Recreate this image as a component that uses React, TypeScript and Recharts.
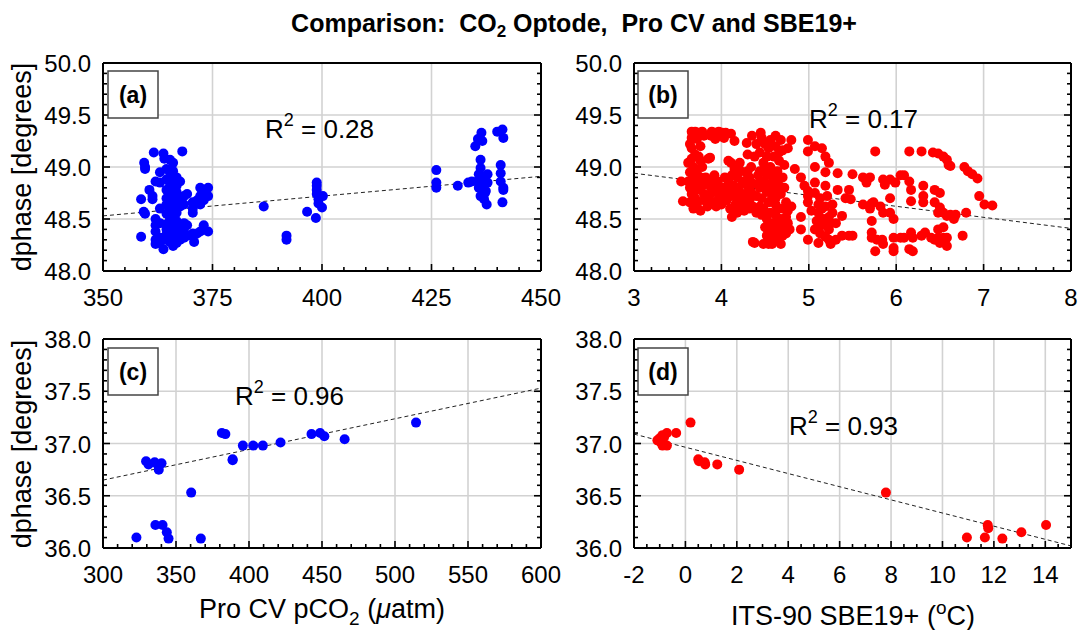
import React from 'react';
import { ScatterChart, Scatter, XAxis, YAxis, CartesianGrid, ReferenceLine } from 'recharts';

const FONT = '"Liberation Sans", Arial, Helvetica, sans-serif';
const W = 1078;
const H = 630;

type Pt = [number, number];

// ---------- Panel (a): dphase vs Pro CV pCO2 (cruise 1) ----------
const panelA_points: Pt[] = [
  [358.7, 48.69], [358.7, 48.33], [359.4, 49.04], [359.6, 49.0], [359.6, 48.98], [359.3, 48.57], [359.6, 48.55],
  [360.6, 48.78], [361.3, 48.72], [361.3, 48.69], [361.6, 49.14],
  [362.0, 48.86], [362.0, 48.5], [362.0, 48.44], [362.0, 48.38], [362.0, 48.3], [362.0, 48.26],
  [363.0, 48.95], [363.0, 48.85], [363.0, 48.6], [363.0, 48.46], [363.0, 48.32], [363.0, 48.27],
  [363.8, 48.21], [363.8, 49.13], [364.0, 49.08],
  [364.5, 48.98], [364.5, 48.88], [364.5, 48.78], [364.5, 48.7], [364.5, 48.64], [364.5, 48.55], [364.5, 48.45], [364.5, 48.4], [364.5, 48.35], [364.5, 48.3],
  [365.3, 49.07], [365.3, 48.95], [365.3, 48.9], [365.3, 48.82], [365.3, 48.74], [365.3, 48.66], [365.3, 48.58], [365.3, 48.5], [365.3, 48.42], [365.3, 48.36], [365.3, 48.28],
  [366.0, 49.04], [366.0, 48.96], [366.0, 48.86], [366.0, 48.78], [366.0, 48.72], [366.0, 48.62], [366.0, 48.52], [366.0, 48.46], [366.0, 48.38], [366.0, 48.32], [366.0, 48.24],
  [366.8, 48.9], [366.8, 48.82], [366.8, 48.76], [366.8, 48.68], [366.8, 48.56], [366.8, 48.48], [366.8, 48.4], [366.8, 48.34], [366.8, 48.27],
  [368.1, 49.15], [367.6, 48.86], [367.6, 48.7], [367.6, 48.62], [367.6, 48.44], [367.6, 48.36], [367.6, 48.3],
  [368.5, 48.72], [368.5, 48.64], [368.5, 48.46], [368.5, 48.38], [368.5, 48.32],
  [369.2, 48.74], [369.2, 48.44], [369.2, 48.34],
  [370.5, 48.66], [370.5, 48.6], [370.5, 48.36], [370.8, 48.28], [370.5, 48.56],
  [371.5, 48.68], [371.5, 48.36],
  [372.2, 48.8], [372.2, 48.72], [372.2, 48.64], [372.2, 48.38],
  [373.0, 48.78], [373.0, 48.68], [373.0, 48.44], [373.0, 48.4],
  [374.0, 48.8], [374.0, 48.72], [374.0, 48.38],
  [386.7, 48.62], [391.9, 48.34], [391.9, 48.3], [396.6, 48.57], [398.6, 48.51],
  [398.8, 48.85], [398.8, 48.82], [398.8, 48.78], [398.8, 48.74], [399.2, 48.69], [399.2, 48.65], [400.0, 48.61], [400.2, 48.72],
  [426.1, 48.97], [426.1, 48.85], [426.1, 48.8], [431.0, 48.82], [433.4, 48.85], [434.2, 48.86],
  [435.0, 49.2], [435.6, 49.27], [436.4, 49.33], [436.6, 49.25], [436.2, 49.07], [436.2, 48.99], [435.8, 48.93], [435.4, 48.86],
  [435.8, 48.8], [436.2, 48.72], [437.0, 48.69], [437.6, 48.64], [437.8, 48.93], [437.8, 48.85], [437.4, 48.77], [437.0, 48.9],
  [436.6, 48.83], [437.2, 48.75], [436.8, 48.78],
  [440.0, 49.34], [441.2, 49.36], [441.4, 49.28], [440.8, 49.02], [440.8, 48.94], [440.8, 48.86], [441.4, 48.78], [441.2, 48.66], [441.4, 48.8],
];
const panelA_trend: Pt[] = [[350, 48.53], [450, 48.91]];

// ---------- Panel (b): dphase vs SBE19+ temperature (cruise 1) ----------
const panelB_points: Pt[] = [
  [3.54, 48.86], [3.56, 48.67], [3.66, 49.34], [3.7, 49.34], [3.74, 49.33], [3.78, 49.34], [3.66, 49.28], [3.72, 49.27],
  [3.66, 49.18], [3.7, 49.12], [3.66, 49.08], [3.74, 49.1], [3.68, 49.0], [3.64, 48.95], [3.72, 48.94], [3.66, 48.88],
  [3.7, 48.84], [3.64, 48.8], [3.72, 48.78], [3.66, 48.74], [3.7, 48.7], [3.64, 48.66], [3.72, 48.64], [3.68, 48.6],
  [3.76, 48.58], [3.62, 48.86], [3.76, 49.06], [3.76, 48.9], [3.8, 48.74], [3.8, 48.68], [3.85, 49.08], [3.76, 49.2],
  [3.8, 49.3], [3.64, 49.22], [3.68, 49.3], [3.62, 49.04], [3.78, 49.0], [3.78, 48.82], [3.84, 48.62],
  [3.89, 49.34], [3.93, 49.33], [3.97, 49.34], [4.01, 49.33], [4.05, 49.33], [4.11, 49.32], [4.15, 49.25], [3.93, 49.27], [4.03, 49.28], [3.88, 49.3],
  [3.84, 48.84], [3.88, 48.8], [3.92, 48.76], [3.86, 48.72], [3.9, 48.66], [3.96, 48.86], [3.98, 48.72], [4.02, 48.8],
  [4.0, 48.64], [4.06, 48.76], [4.08, 48.86], [4.06, 48.68], [4.1, 48.6], [4.14, 48.82], [4.14, 48.72], [4.12, 48.52],
  [4.18, 48.9], [4.2, 48.8], [4.2, 48.66], [4.24, 48.86], [4.26, 48.74], [4.26, 48.58], [4.3, 48.96], [4.3, 48.82],
  [4.32, 48.68], [4.32, 48.6], [4.08, 49.06], [4.11, 49.04], [4.21, 49.04], [4.15, 48.98], [3.87, 49.09], [4.29, 49.23],
  [4.35, 49.3], [4.29, 48.94], [3.94, 48.84], [3.96, 48.68], [4.04, 48.9], [4.16, 48.64], [4.22, 48.74], [3.9, 48.86],
  [4.0, 48.78], [4.1, 48.72], [4.18, 48.56], [4.24, 48.62], [4.28, 48.7],
  [3.86, 48.68], [3.94, 48.62], [4.02, 48.7], [4.08, 48.8], [4.16, 48.78], [4.26, 48.66], [4.34, 48.76], [4.32, 48.9],
  [3.82, 48.9], [3.92, 48.92], [4.12, 48.92], [4.22, 48.96], [4.36, 48.62], [4.4, 48.56], [4.44, 48.62], [4.3, 49.12],
  [4.45, 49.33], [4.4, 49.22], [4.5, 49.22], [4.44, 49.14], [4.52, 49.1], [4.48, 49.04], [4.56, 49.0], [4.44, 48.96],
  [4.52, 48.92], [4.48, 48.86], [4.56, 48.84], [4.44, 48.8], [4.52, 48.76], [4.6, 48.78], [4.46, 48.7], [4.54, 48.66],
  [4.62, 48.7], [4.48, 48.6], [4.56, 48.56], [4.64, 48.6], [4.52, 48.5], [4.6, 48.46], [4.68, 48.5], [4.56, 48.4],
  [4.64, 48.38], [4.72, 48.4], [4.6, 48.34], [4.7, 48.34], [4.62, 49.3], [4.68, 49.26], [4.7, 49.16], [4.66, 49.06],
  [4.64, 48.96], [4.7, 48.9], [4.72, 48.8], [4.68, 48.74], [4.74, 48.66], [4.76, 48.58], [4.7, 48.6], [4.8, 49.26],
  [4.76, 49.18], [4.72, 49.02], [4.36, 48.28], [4.38, 48.27], [4.48, 48.26], [4.54, 48.26], [4.58, 48.26], [4.68, 48.26],
  [4.74, 48.36], [4.78, 48.4], [4.4, 48.72], [4.36, 48.84], [4.42, 48.92], [4.38, 49.1], [4.34, 49.0], [4.5, 48.8],
  [4.58, 48.92], [4.6, 49.1], [4.54, 49.18], [4.46, 49.28], [4.58, 48.7], [4.66, 48.82], [4.62, 48.54], [4.54, 48.46],
  [4.66, 48.44], [4.58, 48.3], [4.62, 49.2], [4.56, 49.26], [4.66, 49.14], [4.5, 49.0], [4.62, 48.88], [4.46, 48.54],
  [4.5, 48.42], [4.62, 48.64], [4.74, 48.52], [4.68, 48.44], [4.52, 48.34], [4.64, 48.3], [4.76, 48.46], [4.42, 48.84],
  [4.84, 48.98], [4.91, 48.9], [4.95, 48.82], [4.99, 48.77], [4.91, 48.52], [4.91, 48.4], [4.8, 48.62],
  [4.99, 49.26], [4.99, 49.15], [5.07, 49.2], [5.15, 49.18], [5.19, 49.1], [5.23, 49.04], [5.07, 49.0], [5.19, 48.95],
  [5.33, 48.94], [5.5, 48.93], [5.07, 48.85], [4.99, 48.72], [4.99, 48.66], [5.07, 48.75], [5.19, 48.82], [5.21, 48.72],
  [5.19, 48.62], [5.11, 48.56], [5.17, 48.5], [5.27, 48.56], [5.31, 48.46], [5.23, 48.4], [5.07, 48.4], [4.99, 48.3],
  [5.11, 48.27], [5.23, 48.3], [5.31, 48.3], [5.38, 48.34], [5.46, 48.34], [5.5, 48.34], [5.38, 48.53], [5.46, 48.78],
  [5.48, 48.69], [5.33, 48.78], [5.42, 48.7], [5.13, 48.7], [5.15, 48.44], [5.25, 48.26], [5.13, 48.36], [5.27, 48.64],
  [5.03, 48.58], [5.09, 48.48], [5.19, 48.33], [5.23, 48.52], [5.15, 48.6], [5.25, 48.46], [5.11, 48.64],
  [5.62, 48.9], [5.7, 48.9], [5.66, 48.85], [5.76, 49.15], [5.62, 48.64], [5.72, 48.65], [5.7, 48.6], [5.74, 48.66],
  [5.72, 48.48], [5.72, 48.37], [5.72, 48.32], [5.78, 48.3], [5.84, 48.3], [5.85, 48.26], [5.76, 48.19], [5.85, 48.88],
  [5.87, 48.83], [5.93, 48.88], [5.99, 48.85], [6.05, 48.92], [6.09, 48.92], [6.15, 48.86], [6.17, 48.78], [5.93, 48.7],
  [5.85, 48.56], [5.93, 48.56], [5.97, 48.5], [5.97, 48.32], [6.05, 48.32], [5.97, 48.22], [5.97, 48.19], [6.09, 48.32],
  [6.17, 48.37], [6.19, 48.32], [6.15, 48.21], [6.19, 48.19], [6.29, 48.34], [6.33, 48.37], [6.17, 48.67], [6.31, 48.82],
  [6.31, 48.72], [6.31, 48.66], [6.15, 49.15], [5.82, 48.62],
  [6.29, 49.15], [6.42, 49.14], [6.48, 49.13], [6.54, 49.1], [6.58, 49.07], [6.6, 49.02], [6.62, 49.01], [6.44, 48.78],
  [6.5, 48.75], [6.44, 48.66], [6.5, 48.61], [6.48, 48.56], [6.54, 48.56], [6.58, 48.53], [6.62, 48.54], [6.68, 48.54],
  [6.66, 48.5], [6.48, 48.4], [6.54, 48.42], [6.48, 48.32], [6.54, 48.32], [6.58, 48.32], [6.58, 48.24], [6.44, 48.3],
  [6.4, 48.32], [6.5, 48.27],
  [6.78, 49.0], [6.82, 48.96], [6.87, 48.93], [6.93, 48.89], [6.8, 48.56], [6.76, 48.34], [6.95, 48.72], [7.01, 48.64], [7.1, 48.63],
];
const panelB_trend: Pt[] = [[3, 48.94], [8, 48.41]];

// ---------- Panel (c): dphase vs Pro CV pCO2 (cruise 2) ----------
const panelC_points: Pt[] = [
  [322.9, 36.1], [329.5, 36.83], [331.2, 36.8], [335.4, 36.82], [337.8, 36.79], [338.2, 36.75], [340.1, 36.81],
  [335.9, 36.22], [340.8, 36.22], [343.7, 36.15], [344.9, 36.09], [360.4, 36.53], [367.0, 36.09],
  [381.4, 37.1], [383.8, 37.09], [388.8, 36.85], [388.8, 36.84], [395.8, 36.98], [402.9, 36.98], [409.5, 36.98],
  [421.6, 37.01], [442.8, 37.09], [448.7, 37.1], [451.6, 37.07], [465.5, 37.04], [514.4, 37.2],
];
const panelC_trend: Pt[] = [[300, 36.65], [600, 37.53]];

// ---------- Panel (d): dphase vs SBE19+ temperature (cruise 2) ----------
const panelD_points: Pt[] = [
  [-1.09, 37.03], [-0.96, 37.01], [-0.89, 36.98], [-0.83, 37.06], [-0.72, 36.98], [-0.72, 37.1], [-0.89, 37.08],
  [-1.0, 37.05], [-0.36, 37.1], [0.2, 37.2], [0.53, 36.83], [0.5, 36.85], [0.77, 36.8], [0.75, 36.82],
  [1.24, 36.8], [2.09, 36.75], [7.8, 36.53], [10.95, 36.1], [11.65, 36.1], [11.76, 36.22], [11.78, 36.19],
  [12.33, 36.09], [13.07, 36.15], [14.03, 36.22],
];
const panelD_trend: Pt[] = [[-2, 37.09], [15, 36.02]];

// ---------- Axes ----------
const aXTicks = [350, 375, 400, 425, 450];
const bXTicks = [3, 4, 5, 6, 7, 8];
const cXTicks = [300, 350, 400, 450, 500, 550, 600];
const dXTicks = [-2, 0, 2, 4, 6, 8, 10, 12, 14];
const topYTicks = [48.0, 48.5, 49.0, 49.5, 50.0];
const bottomYTicks = [36.0, 36.5, 37.0, 37.5, 38.0];

const rangeTicks = (start: number, end: number, step: number) => {
  const n = Math.round((end - start) / step);
  const out: number[] = [];
  for (let i = 0; i <= n; i++) out.push(Number((start + i * step).toFixed(4)));
  return out;
};

const toObjs = (pts: Pt[]) => pts.map(([x, y]) => ({ x, y }));

type Side = 'bottom' | 'top' | 'left' | 'right';

const makeTick = (side: Side, majors: number[], fmt: ((v: number) => string) | null, edge: number) => (p: any) => {
  const v = Number(p.payload.value);
  const x = side === 'left' || side === 'right' ? edge : p.x;
  const y = side === 'top' || side === 'bottom' ? edge : p.y;
  const major = majors.some((m) => Math.abs(m - v) < 1e-6);
  const len = major ? 7 : 4;
  let line: React.ReactNode = null;
  if (side === 'bottom') line = <line x1={x} y1={y} x2={x} y2={y - len} stroke="#000" strokeWidth={1.6} />;
  if (side === 'top') line = <line x1={x} y1={y} x2={x} y2={y + len} stroke="#000" strokeWidth={1.6} />;
  if (side === 'left') line = <line x1={x} y1={y} x2={x + len} y2={y} stroke="#000" strokeWidth={1.6} />;
  if (side === 'right') line = <line x1={x} y1={y} x2={x - len} y2={y} stroke="#000" strokeWidth={1.6} />;
  let label: React.ReactNode = null;
  if (fmt && major) {
    if (side === 'bottom')
      label = (
        <text x={x} y={y + 35} textAnchor="middle" fontFamily={FONT} fontSize={24} fill="#000">
          {fmt(v)}
        </text>
      );
    if (side === 'left')
      label = (
        <text x={x - 12} y={y + 9} textAnchor="end" fontFamily={FONT} fontSize={24} fill="#000">
          {fmt(v)}
        </text>
      );
  }
  return (
    <g>
      {line}
      {label}
    </g>
  );
};

const fmtInt = (v: number) => String(Math.round(v));
const fmtOne = (v: number) => v.toFixed(1);

interface PanelProps {
  rect: { left: number; top: number; right: number; bottom: number };
  xDomain: [number, number];
  yDomain: [number, number];
  xMajor: number[];
  xMinor: number[];
  yMajor: number[];
  yMinor: number[];
  points: Pt[];
  trend: Pt[];
  color: string;
}

function Panel({ rect, xDomain, yDomain, xMajor, xMinor, yMajor, yMinor, points, trend, color }: PanelProps) {
  const margin = { top: rect.top - 1, left: rect.left - 1, right: W - rect.right - 1, bottom: H - rect.bottom - 1 };
  const frame = { stroke: '#000', strokeWidth: 2 };
  const dot = (p: any) => <circle cx={p.cx} cy={p.cy} r={5} fill={color} />;
  const common = { type: 'number' as const, allowDataOverflow: true, interval: 0, tickSize: 0, tickMargin: 0, tickLine: false, axisLine: frame };
  return (
    <div style={{ position: 'absolute', left: 0, top: 0, width: W, height: H }}>
      <ScatterChart width={W} height={H} margin={margin}>
        <CartesianGrid
          xAxisId="b"
          yAxisId="l"
          verticalValues={xMajor}
          horizontalValues={yMajor}
          stroke="#d2d2d2"
          strokeWidth={1.6}
        />
        <Scatter xAxisId="b" yAxisId="l" data={toObjs(points)} fill={color} shape={dot} isAnimationActive={false} />
        <ReferenceLine
          xAxisId="b"
          yAxisId="l"
          segment={[
            { x: trend[0][0], y: trend[0][1] },
            { x: trend[1][0], y: trend[1][1] },
          ]}
          stroke="#222"
          strokeWidth={1}
          strokeDasharray="4 3"
        />
        <XAxis {...common} xAxisId="b" dataKey="x" domain={xDomain} ticks={xMinor} height={1} tick={makeTick('bottom', xMajor, fmtInt, rect.bottom)} />
        <XAxis {...common} xAxisId="t" orientation="top" domain={xDomain} ticks={xMinor} height={1} tick={makeTick('top', xMajor, null, rect.top)} />
        <YAxis {...common} yAxisId="l" dataKey="y" domain={yDomain} ticks={yMinor} width={1} tick={makeTick('left', yMajor, fmtOne, rect.left)} />
        <YAxis {...common} yAxisId="r" orientation="right" domain={yDomain} ticks={yMinor} width={1} tick={makeTick('right', yMajor, null, rect.right)} />
      </ScatterChart>
    </div>
  );
}

const txt = { fontFamily: FONT, fill: '#000' } as const;

function LetterBox({ x, y, letter }: { x: number; y: number; letter: string }) {
  return (
    <g>
      <rect x={x} y={y} width={50} height={47} fill="#fff" stroke="#444" strokeWidth={1.5} />
      <text x={x + 25} y={y + 32} textAnchor="middle" fontWeight="bold" fontSize={23} {...txt}>
        {letter}
      </text>
    </g>
  );
}

function RLabel({ x, y, value }: { x: number; y: number; value: string }) {
  return (
    <text x={x} y={y} fontSize={26} {...txt} style={{ whiteSpace: 'pre' }}>
      R
      <tspan fontSize={18} dy={-12}>
        2
      </tspan>
      <tspan dy={12}>{` = ${value}`}</tspan>
    </text>
  );
}

export default function App() {
  return (
    <div style={{ position: 'absolute', left: 0, top: 0, width: W, height: H, background: '#fff', overflow: 'hidden' }}>
      <Panel
        rect={{ left: 103, top: 63, right: 541, bottom: 271 }}
        xDomain={[350, 450]}
        yDomain={[48, 50]}
        xMajor={aXTicks}
        xMinor={rangeTicks(350, 450, 5)}
        yMajor={topYTicks}
        yMinor={rangeTicks(48, 50, 0.1)}
        points={panelA_points}
        trend={panelA_trend}
        color="#0000ff"
      />
      <Panel
        rect={{ left: 634, top: 63, right: 1071, bottom: 271 }}
        xDomain={[3, 8]}
        yDomain={[48, 50]}
        xMajor={bXTicks}
        xMinor={rangeTicks(3, 8, 0.2)}
        yMajor={topYTicks}
        yMinor={rangeTicks(48, 50, 0.1)}
        points={panelB_points}
        trend={panelB_trend}
        color="#ff0000"
      />
      <Panel
        rect={{ left: 103, top: 339, right: 541, bottom: 548 }}
        xDomain={[300, 600]}
        yDomain={[36, 38]}
        xMajor={cXTicks}
        xMinor={rangeTicks(300, 600, 10)}
        yMajor={bottomYTicks}
        yMinor={rangeTicks(36, 38, 0.1)}
        points={panelC_points}
        trend={panelC_trend}
        color="#0000ff"
      />
      <Panel
        rect={{ left: 634, top: 339, right: 1071, bottom: 548 }}
        xDomain={[-2, 15]}
        yDomain={[36, 38]}
        xMajor={dXTicks}
        xMinor={rangeTicks(-2, 15, 0.5)}
        yMajor={bottomYTicks}
        yMinor={rangeTicks(36, 38, 0.1)}
        points={panelD_points}
        trend={panelD_trend}
        color="#ff0000"
      />
      <svg width={W} height={H} style={{ position: 'absolute', left: 0, top: 0, pointerEvents: 'none' }}>
        <text x={574} y={32} textAnchor="middle" fontWeight="bold" fontSize={25} {...txt} style={{ whiteSpace: 'pre' }}>
          Comparison:  CO
          <tspan fontSize={17} dy={5}>
            2
          </tspan>
          <tspan dy={-5}>{' Optode,  Pro CV and SBE19+'}</tspan>
        </text>

        <LetterBox x={108} y={71} letter="(a)" />
        <LetterBox x={638} y={71} letter="(b)" />
        <LetterBox x={108} y={348} letter="(c)" />
        <LetterBox x={638} y={348} letter="(d)" />

        <RLabel x={265} y={138} value="0.28" />
        <RLabel x={809} y={128} value="0.17" />
        <RLabel x={235} y={405} value="0.96" />
        <RLabel x={789} y={435} value="0.93" />

        <text transform="translate(31,167) rotate(-90)" textAnchor="middle" fontSize={27} {...txt}>
          dphase [degrees]
        </text>
        <text transform="translate(31,444) rotate(-90)" textAnchor="middle" fontSize={27} {...txt}>
          dphase [degrees]
        </text>

        <text x={322} y={618} textAnchor="middle" fontSize={27} {...txt} style={{ whiteSpace: 'pre' }}>
          Pro CV pCO
          <tspan fontSize={19} dy={7}>
            2
          </tspan>
          <tspan dy={-7}>{' ('}</tspan>
          <tspan fontStyle="italic">μ</tspan>
          <tspan>atm)</tspan>
        </text>
        <text x={853} y={625} textAnchor="middle" fontSize={27} {...txt} style={{ whiteSpace: 'pre' }}>
          ITS-90 SBE19+ (
          <tspan fontSize={19} dy={-11}>
            o
          </tspan>
          <tspan dy={11}>C)</tspan>
        </text>
      </svg>
    </div>
  );
}
